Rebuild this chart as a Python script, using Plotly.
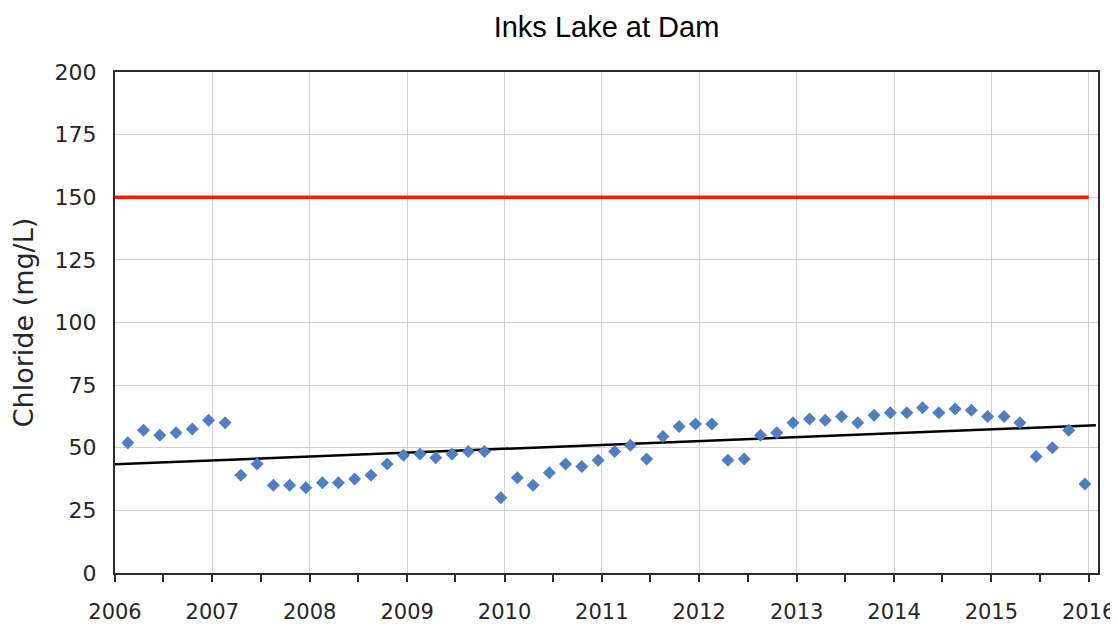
import plotly.graph_objects as go

# Sample dates (bimonthly) and chloride values (mg/L)
sample_dates = [
    "2006-02-18", "2006-04-18", "2006-06-18", "2006-08-18", "2006-10-18", "2006-12-18",
    "2007-02-18", "2007-04-18", "2007-06-18", "2007-08-18", "2007-10-18", "2007-12-18",
    "2008-02-18", "2008-04-18", "2008-06-18", "2008-08-18", "2008-10-18", "2008-12-18",
    "2009-02-18", "2009-04-18", "2009-06-18", "2009-08-18", "2009-10-18", "2009-12-18",
    "2010-02-18", "2010-04-18", "2010-06-18", "2010-08-18", "2010-10-18", "2010-12-18",
    "2011-02-18", "2011-04-18", "2011-06-18", "2011-08-18", "2011-10-18", "2011-12-18",
    "2012-02-18", "2012-04-18", "2012-06-18", "2012-08-18", "2012-10-18", "2012-12-18",
    "2013-02-18", "2013-04-18", "2013-06-18", "2013-08-18", "2013-10-18", "2013-12-18",
    "2014-02-18", "2014-04-18", "2014-06-18", "2014-08-18", "2014-10-18", "2014-12-18",
    "2015-02-18", "2015-04-18", "2015-06-18", "2015-08-18", "2015-10-18", "2015-12-18",
]
chloride = [
    52, 57, 55, 56, 57.5, 61,
    60, 39, 43.5, 35, 35, 34,
    36, 36, 37.5, 39, 43.5, 47,
    47.5, 46, 47.5, 48.5, 48.5, 30,
    38, 35, 40, 43.5, 42.5, 45,
    48.5, 51, 45.5, 54.5, 58.5, 59.5,
    59.5, 45, 45.5, 55, 56, 60,
    61.5, 61, 62.5, 60, 63, 64,
    64, 66, 64, 65.5, 65, 62.5,
    62.5, 60, 46.5, 50, 57, 35.5,
]

# Criterion line (mg/L)
criterion_dates = ["2006-01-01", "2016-01-01"]
criterion_values = [150, 150]

# Trend line endpoints
trend_dates = ["2006-01-01", "2016-01-28"]
trend_values = [43.4, 59.0]

fig = go.Figure()

fig.add_trace(go.Scatter(
    x=criterion_dates, y=criterion_values, mode="lines",
    line=dict(color="#ff1a00", width=3.5), hoverinfo="skip",
))
fig.add_trace(go.Scatter(
    x=trend_dates, y=trend_values, mode="lines",
    line=dict(color="#000000", width=2.5), hoverinfo="skip",
))
fig.add_trace(go.Scatter(
    x=sample_dates, y=chloride, mode="markers",
    marker=dict(symbol="diamond", size=10, color="#4f7fc0",
                line=dict(width=0)),
))

# page has an 8px body margin, so the figure is 8px smaller than the window
fig.update_layout(
    width=1110, height=621,
    paper_bgcolor="white", plot_bgcolor="white",
    showlegend=False,
    margin=dict(l=107, r=20, t=64, b=56),
    title=dict(
        text="Inks Lake at Dam",
        font=dict(family="Liberation Sans", size=29, color="#000000"),
        x=0.5, xref="paper", xanchor="center",
        y=1 - 19 / 621, yref="container", yanchor="middle",
        automargin=False,
    ),
    font=dict(family="DejaVu Sans", color="#262626"),
)

fig.update_xaxes(
    type="date",
    range=["2006-01-01", "2016-02-05"],
    dtick="M12", tick0="2006-01-01", tickformat="%Y",
    ticks="outside", ticklen=7, tickwidth=1.5, tickcolor="#2b2b2b",
    tickfont=dict(family="DejaVu Sans", size=21, color="#262626"),
    ticklabelstandoff=12,
    showgrid=True, gridcolor="#d4d4d4", gridwidth=1,
    showline=True, linecolor="#2b2b2b", linewidth=2, mirror=True,
    minor=dict(dtick="M6", tick0="2006-01-01", ticks="outside", ticklen=7,
               tickwidth=1.5, tickcolor="#2b2b2b", showgrid=False),
    zeroline=False,
    automargin=False,
)

fig.update_yaxes(
    range=[0, 200], dtick=25, tick0=0,
    ticks="", showgrid=True, gridcolor="#d4d4d4", gridwidth=1,
    tickfont=dict(family="DejaVu Sans", size=22, color="#262626"),
    ticklabelstandoff=12,
    showline=True, linecolor="#2b2b2b", linewidth=2, mirror=True,
    zeroline=False,
    automargin=False,
    title=dict(text="Chloride (mg/L)",
               font=dict(family="DejaVu Sans", size=27, color="#262626"),
               standoff=14),
)

fig.write_html("out.html")
